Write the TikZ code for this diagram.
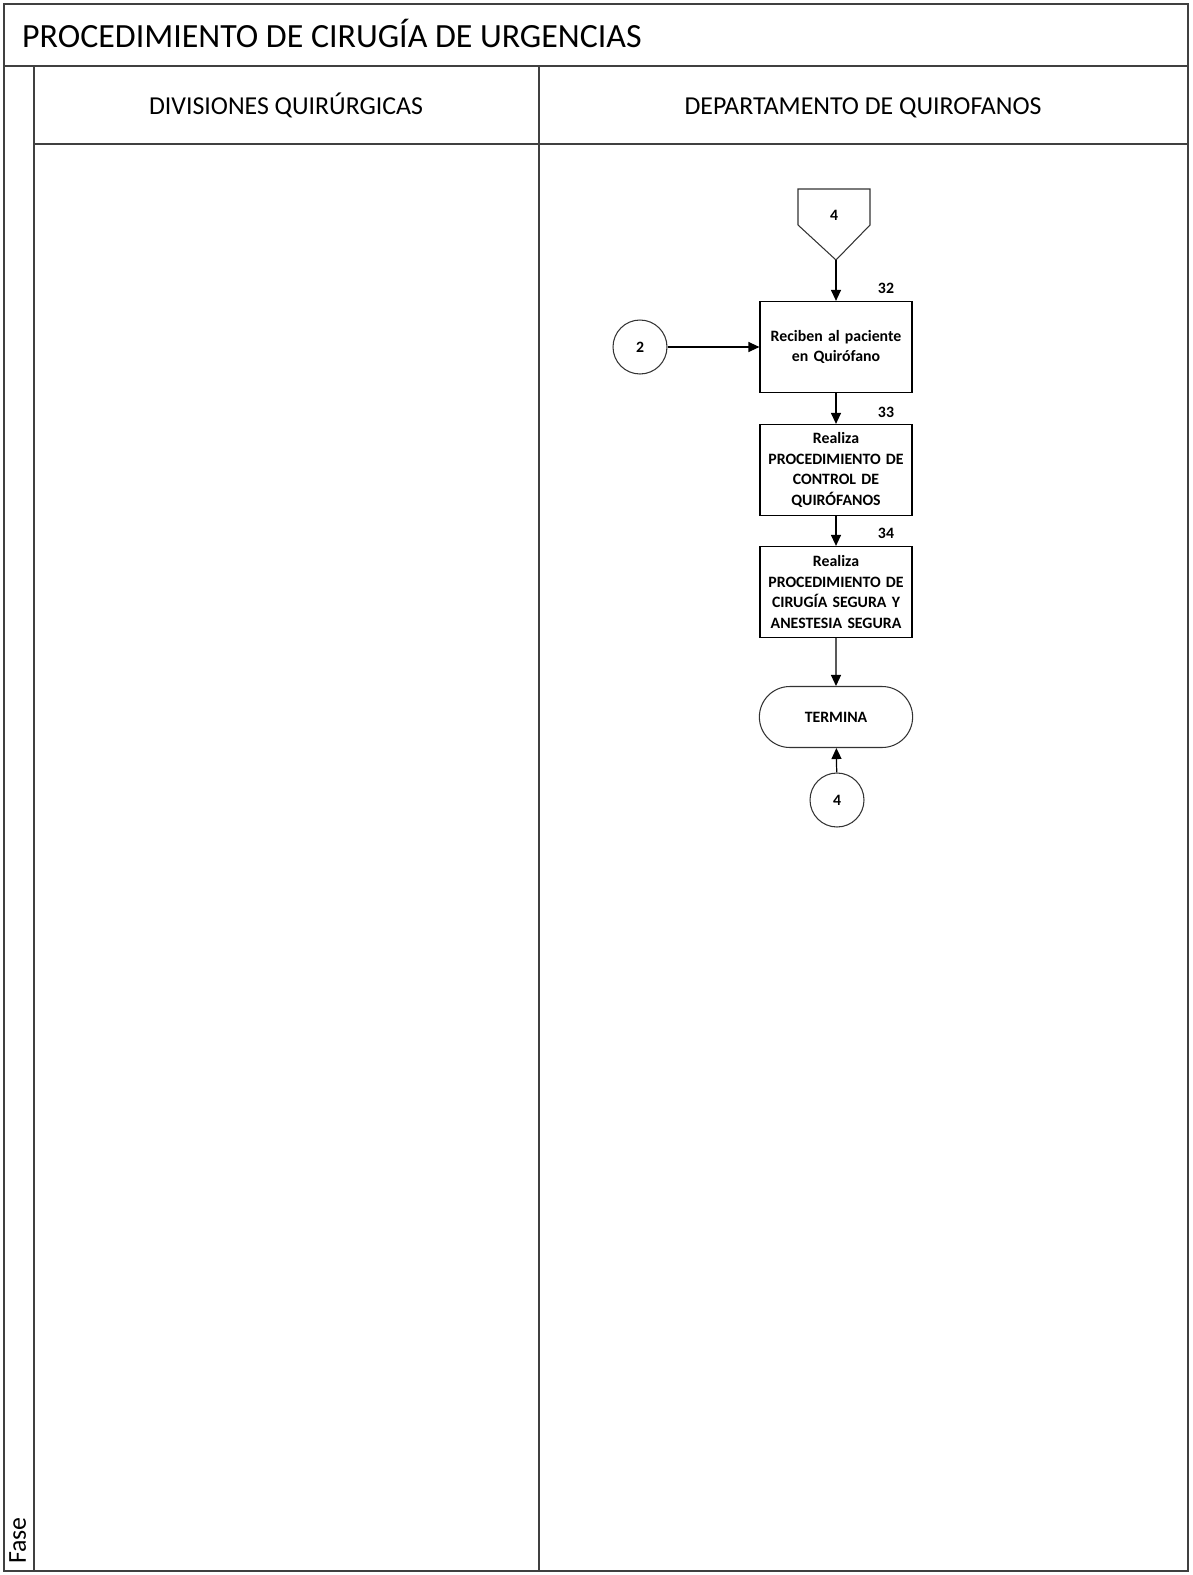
\documentclass[tikz,border=0pt]{standalone}
\usepackage{fontspec}
\setmainfont{Carlito}
\usetikzlibrary{positioning,arrows.meta,shapes.misc}

\begin{document}
\begin{tikzpicture}[x=0.02cm,y=-0.02cm,
  every node/.style={font=\bfseries\fontsize{9}{11.6}\selectfont,align=center},
  frame/.style={draw=black!75,line width=0.8pt},
  lane/.style={anchor=base,font=\fontsize{14.7}{17}\selectfont},
  proc/.style={draw,line width=0.7pt,minimum width=3.04cm,minimum height=1.82cm,inner sep=1pt,text width=2.95cm},
  term/.style={draw=black!80,line width=0.6pt,rounded rectangle,minimum width=3.3cm,minimum height=1.22cm},
  conn/.style={draw=black!80,line width=0.6pt,circle,minimum size=1.08cm,inner sep=0pt},
  num/.style={font=\bfseries\fontsize{9}{11}\selectfont},
  flow/.style={line width=0.7pt,-{Triangle[length=2.2mm,width=2mm]}}]
 \useasboundingbox (0,0) rectangle (1193,1575);
 % marco y carriles
 \draw[frame] (4,4) rectangle (1188,1571);
 \draw[frame] (4,66)--(1188,66);
 \draw[frame] (34,66)--(34,1571);
 \draw[frame] (34,144)--(1188,144);
 \draw[frame] (539,66)--(539,1571);
 \node[anchor=base west,font=\fontsize{19.3}{22}\selectfont] (titulo) at (16,48) {PROCEDIMIENTO DE CIRUGÍA DE URGENCIAS};
 \node[lane] (div) at (286,114) {DIVISIONES QUIRÚRGICAS};
 \node[lane] (dep) at (863,114) {DEPARTAMENTO DE QUIROFANOS};
 \node[rotate=90,anchor=base west,font=\fontsize{14.7}{17}\selectfont] (fase) at (26,1570) {Fase};
 % conector de otra pagina
 \draw[black!80,line width=0.6pt] (798,189)--(870,189)--(870,225)--(836,260)--(798,225)--cycle;
 \node (p4) at (834,215) {4};
 \coordinate (off4) at (836,260);
 % actividades
 \node[proc] (a32) at (836,347) {Reciben al paciente\\en Quirófano};
 \node[proc] (a33) at (836,470) {Realiza\\PROCEDIMIENTO DE\\CONTROL DE\\QUIRÓFANOS};
 \node[proc] (a34) at (836,592) {Realiza\\PROCEDIMIENTO DE\\CIRUGÍA SEGURA Y\\ANESTESIA SEGURA};
 \node[term] (fin) at (836,717) {TERMINA};
 \node[conn] (c2) at (640,347) {2};
 \node[conn] (c4) at (837,800) {4};
 \node[num] at (886,288) {32};
 \node[num] at (886,412) {33};
 \node[num] at (886,533) {34};
 % flechas
 \draw[flow] (off4) -- (a32);
 \draw[flow] (c2) -- (a32);
 \draw[flow] (a32) -- (a33);
 \draw[flow] (a33) -- (a34);
 \draw[flow] (a34) -- (fin);
 \draw[flow] (c4) -- (fin);
\end{tikzpicture}
\end{document}
